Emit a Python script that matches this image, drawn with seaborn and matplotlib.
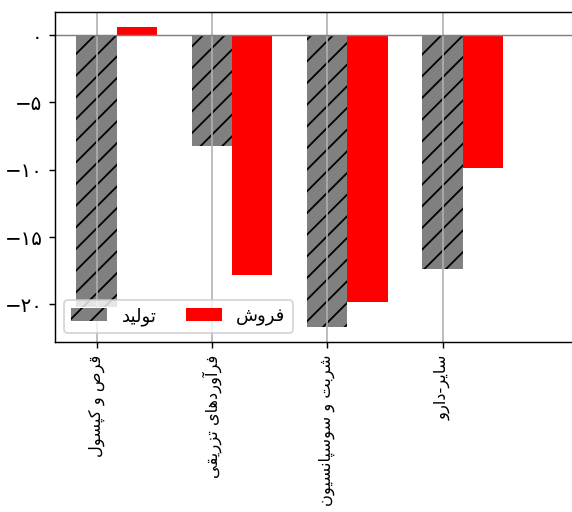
import pandas as pd
import seaborn as sns
import matplotlib.pyplot as plt

# Data
categories = ['قرص و کپسول', 'فرآوردهای تزریقی', 'شربت و سوسپانسیون', 'سایر-دارو']
production = [-20.2, -8.25, -21.7, -17.4]
sales = [0.62, -17.8, -19.8, -9.9]
series_names = ['تولید', 'فروش']
y_ticks = [0, -5, -10, -15, -20]
y_tick_labels = ['۰', '−۵', '−۱۰', '−۱۵', '−۲۰']

# Arabic presentation forms: isolated, final, initial, medial
FORMS = {
    'ا': (0xFE8D, 0xFE8E), 'آ': (0xFE81, 0xFE82),
    'د': (0xFEA9, 0xFEAA), 'ر': (0xFEAD, 0xFEAE),
    'ز': (0xFEAF, 0xFEB0), 'و': (0xFEED, 0xFEEE),
    'ب': (0xFE8F, 0xFE90, 0xFE91, 0xFE92), 'پ': (0xFB56, 0xFB57, 0xFB58, 0xFB59),
    'ت': (0xFE95, 0xFE96, 0xFE97, 0xFE98), 'س': (0xFEB1, 0xFEB2, 0xFEB3, 0xFEB4),
    'ش': (0xFEB5, 0xFEB6, 0xFEB7, 0xFEB8), 'ص': (0xFEB9, 0xFEBA, 0xFEBB, 0xFEBC),
    'ف': (0xFED1, 0xFED2, 0xFED3, 0xFED4), 'ق': (0xFED5, 0xFED6, 0xFED7, 0xFED8),
    'ک': (0xFB8E, 0xFB8F, 0xFB90, 0xFB91), 'ل': (0xFEDD, 0xFEDE, 0xFEDF, 0xFEE0),
    'ن': (0xFEE5, 0xFEE6, 0xFEE7, 0xFEE8), 'ه': (0xFEE9, 0xFEEA, 0xFEEB, 0xFEEC),
    'ی': (0xFBFC, 0xFBFD, 0xFBFE, 0xFBFF),
}


def shape(text):
    """Join Persian letters and put them in visual (left to right) order."""
    out = []
    for i, ch in enumerate(text):
        if ch not in FORMS:
            out.append(ch)
            continue
        prev = text[i - 1] if i > 0 else ''
        nxt = text[i + 1] if i + 1 < len(text) else ''
        joins_prev = prev in FORMS and len(FORMS[prev]) == 4
        dual = len(FORMS[ch]) == 4
        joins_next = dual and nxt in FORMS
        f = FORMS[ch]
        if joins_prev and joins_next:
            out.append(chr(f[3]))
        elif joins_prev:
            out.append(chr(f[1]))
        elif joins_next:
            out.append(chr(f[2]))
        else:
            out.append(chr(f[0]))
    return ''.join(out)[::-1]


rows = []
for i, cat in enumerate(categories):
    rows.append({'pos': i + 0.175, 'value': production[i], 'series': series_names[0]})
    rows.append({'pos': i + 0.175, 'value': sales[i], 'series': series_names[1]})
df = pd.DataFrame(rows)

plt.rcParams['font.family'] = ['DejaVu Sans']

DPI = 130
fig = plt.figure(figsize=(572 / DPI, 512 / DPI), dpi=DPI)
# axes runs past the right edge, as in the reference (no right spine visible)
ax = fig.add_axes([55 / 572, 1 - 342 / 512, 545 / 572, (342 - 11.7) / 512])

sns.barplot(data=df, x='pos', y='value', hue='series', hue_order=series_names,
            palette={series_names[0]: 'gray', series_names[1]: 'red'},
            native_scale=True, dodge=True, width=0.7, saturation=1,
            errorbar=None, legend=False, edgecolor='black', linewidth=0, ax=ax)

for bar in ax.containers[0]:
    bar.set_hatch('//')

ax.axhline(0, color='gray', lw=0.8)
ax.grid(axis='x', color='#b0b0b0', lw=0.9)

ax.set_xticks(range(len(categories)), labels=[shape(c) for c in categories],
              rotation=90, fontsize=9)
ax.set_yticks(y_ticks, labels=y_tick_labels, fontsize=11)
ax.set_xlim(-0.36, 4.365)
ax.set_ylim(-22.8, 1.74)
ax.set_xlabel('')
ax.set_ylabel('')

ax.legend(handles=[ax.containers[0], ax.containers[1]],
          labels=[shape(s) for s in series_names],
          loc='lower left', ncol=2, fontsize=10, handlelength=2.0,
          handleheight=0.75, columnspacing=1.6, handletextpad=0.8)

fig.savefig('out.png', dpi=DPI)
